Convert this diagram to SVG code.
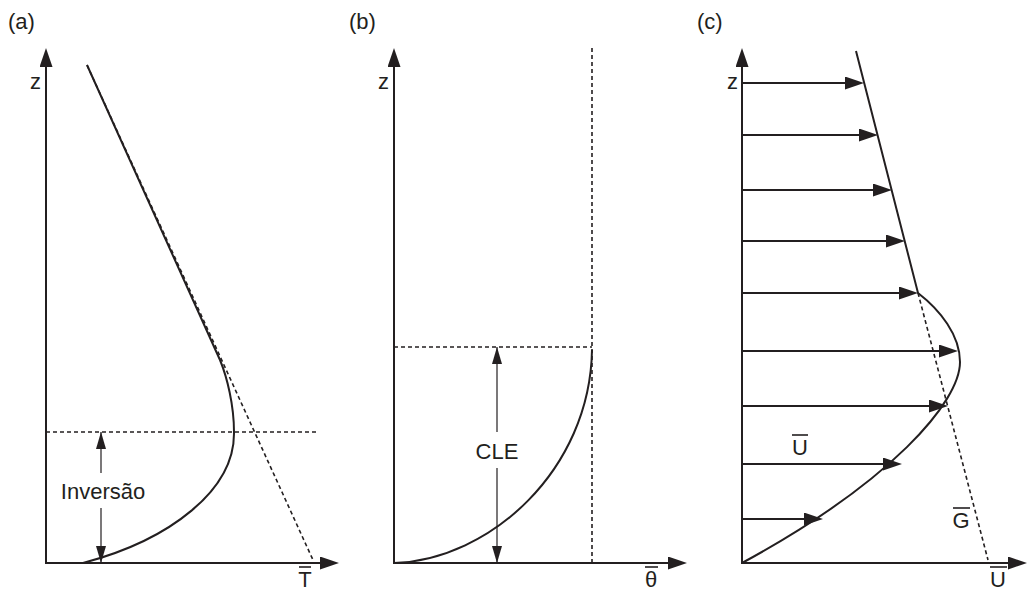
<svg xmlns="http://www.w3.org/2000/svg" width="1029" height="592" viewBox="0 0 1029 592">
<style>
.ax{stroke:#231f20;stroke-width:2;fill:none}
.cv{stroke:#231f20;stroke-width:2;fill:none}
.ds{stroke:#231f20;stroke-width:1.6;fill:none;stroke-dasharray:4 3}
.dim{stroke:#231f20;stroke-width:1.2;fill:none}
.bar{stroke:#231f20;stroke-width:1.6}
text{font-family:"Liberation Sans",Arial,sans-serif;font-size:22px;fill:#231f20}
</style>
<defs>
<marker id="ah" markerUnits="userSpaceOnUse" markerWidth="19" markerHeight="13" refX="13" refY="6.5" orient="auto">
<path d="M0,0 L19,6.5 L0,13 z" fill="#231f20"/>
</marker>
<marker id="sh" markerUnits="userSpaceOnUse" markerWidth="17" markerHeight="10" refX="17" refY="5" orient="auto">
<path d="M0,0 L17,5 L0,10 z" fill="#231f20"/>
</marker>
</defs>

<g id="panel-a">
<text x="8" y="29">(a)</text>
<text x="30" y="89">z</text>
<path class="cv" d="M83 563 C170 540 235 490 234 432 C234 405 227 377 220 360 L87 65"/>
<line class="ds" x1="87" y1="65" x2="313" y2="560"/>
<line class="ds" x1="46" y1="432" x2="317" y2="432"/>
<text x="103" y="499" text-anchor="middle">Inversão</text>
<text x="305" y="587" text-anchor="middle">T</text>
<line class="bar" x1="299" y1="567" x2="311" y2="567"/>
</g>

<g id="panel-b">
<text x="349" y="29">(b)</text>
<text x="378" y="89">z</text>
<line class="ds" x1="592" y1="48" x2="592" y2="563"/>
<line class="ds" x1="394" y1="347" x2="592" y2="347"/>
<path class="cv" d="M394 563 C490 560 590 470 592 350"/>
<text x="497" y="459" text-anchor="middle">CLE</text>
<text x="651" y="587" text-anchor="middle">θ</text>
<line class="bar" x1="645" y1="567" x2="658" y2="567"/>
</g>

<g id="panel-c">
<text x="697" y="29">(c)</text>
<text x="727" y="89">z</text>
<path class="cv" d="M742 563 C891 482 960 402 960 362 C960 335 940 310 918 293 L856 51"/>
<line class="ds" x1="918" y1="293" x2="988" y2="560"/>
<text x="800" y="455" text-anchor="middle">U</text>
<line class="bar" x1="792" y1="435" x2="808" y2="435"/>
<text x="961" y="528" text-anchor="middle">G</text>
<line class="bar" x1="953" y1="508" x2="970" y2="508"/>
<text x="998" y="587" text-anchor="middle">U</text>
<line class="bar" x1="990" y1="567" x2="1007" y2="567"/>
</g>

<g id="connectors">
<line class="ax" x1="46" y1="564" x2="46" y2="54" marker-end="url(#ah)"/>
<line class="ax" x1="45" y1="563" x2="333" y2="563" marker-end="url(#ah)"/>
<line class="ax" x1="394" y1="564" x2="394" y2="54" marker-end="url(#ah)"/>
<line class="ax" x1="393" y1="563" x2="681" y2="563" marker-end="url(#ah)"/>
<line class="ax" x1="742" y1="564" x2="742" y2="54" marker-end="url(#ah)"/>
<line class="ax" x1="741" y1="563" x2="1021" y2="563" marker-end="url(#ah)"/>
<line class="dim" x1="101" y1="473" x2="101" y2="432" marker-end="url(#sh)"/>
<line class="dim" x1="101" y1="508" x2="101" y2="563" marker-end="url(#sh)"/>
<line class="dim" x1="497" y1="432" x2="497" y2="347" marker-end="url(#sh)"/>
<line class="dim" x1="497" y1="468" x2="497" y2="563" marker-end="url(#sh)"/>
<line class="ax" x1="742" y1="83" x2="858" y2="83" marker-end="url(#ah)"/>
<line class="ax" x1="742" y1="135" x2="872" y2="135" marker-end="url(#ah)"/>
<line class="ax" x1="742" y1="190" x2="886" y2="190" marker-end="url(#ah)"/>
<line class="ax" x1="742" y1="241" x2="899" y2="241" marker-end="url(#ah)"/>
<line class="ax" x1="742" y1="293" x2="912" y2="293" marker-end="url(#ah)"/>
<line class="ax" x1="742" y1="351" x2="952" y2="351" marker-end="url(#ah)"/>
<line class="ax" x1="742" y1="406" x2="942" y2="406" marker-end="url(#ah)"/>
<line class="ax" x1="742" y1="464" x2="896" y2="464" marker-end="url(#ah)"/>
<line class="ax" x1="742" y1="519" x2="817" y2="519" marker-end="url(#ah)"/>
</g>
</svg>
